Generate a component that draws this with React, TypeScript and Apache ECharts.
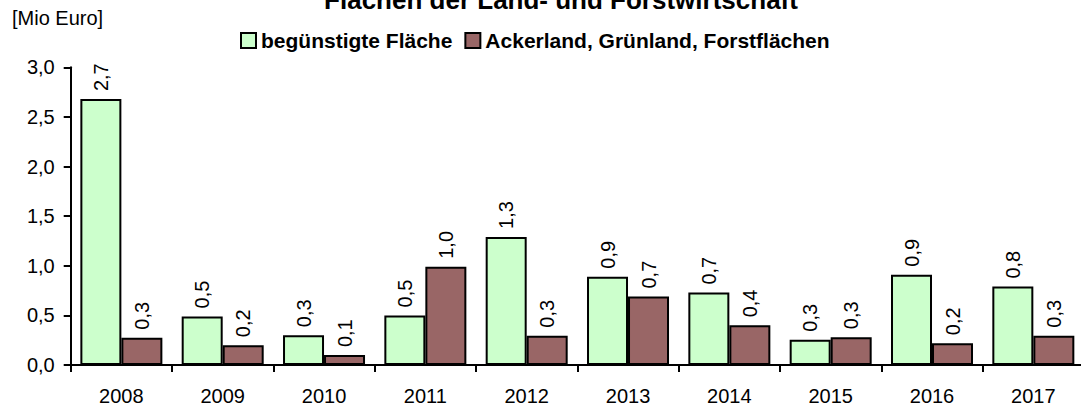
import React, { useEffect, useRef } from "react";
import * as echarts from "echarts";

const years = ["2008", "2009", "2010", "2011", "2012", "2013", "2014", "2015", "2016", "2017"];
const beguenstigt = [2.68, 0.49, 0.3, 0.5, 1.29, 0.89, 0.73, 0.255, 0.91, 0.79];
const flaechen = [0.275, 0.2, 0.1, 0.99, 0.295, 0.69, 0.4, 0.28, 0.22, 0.295];
const seriesNames = ["begünstigte Fläche", "Ackerland, Grünland, Forstflächen"];
const titleText = "Flächen der Land- und Forstwirtschaft";
const unitText = "[Mio Euro]";

const FONT = "'Liberation Sans', Arial, sans-serif";
const fmt = (v: number) => v.toFixed(1).replace(".", ",");

export default function App() {
  const ref = useRef<HTMLDivElement>(null);
  useEffect(() => {
    document.body.style.margin = "0";
    if (!ref.current) return;
    const chart = echarts.init(ref.current, null, { renderer: "svg" });
    const labelCfg = {
      show: true,
      position: "top" as const,
      rotate: 90,
      align: "left" as const,
      verticalAlign: "middle" as const,
      distance: 8,
      color: "#000",
      fontSize: 20,
      fontFamily: FONT,
      formatter: (p: any) => fmt(p.value),
    };
    chart.setOption({
      animation: false,
      graphic: [
        {
          type: "text",
          x: 561,
          y: 0,
          style: {
            text: titleText,
            font: `bold 26px ${FONT}`,
            fill: "#000",
            align: "center",
            verticalAlign: "middle",
          },
        },
        {
          type: "text",
          x: 12,
          y: 8,
          style: { text: unitText, font: `20px ${FONT}`, fill: "#000" },
        },
      ],
      legend: {
        left: 240,
        top: 30,
        padding: 0,
        itemWidth: 15,
        itemHeight: 15,
        itemGap: 12,
        icon: "rect",
        textStyle: { fontSize: 21, fontWeight: "bold", fontFamily: FONT, color: "#000" },
        data: seriesNames,
      },
      grid: { left: 70.7, right: 6, top: 67.3, bottom: 43, containLabel: false },
      xAxis: {
        type: "category",
        data: years,
        axisLine: { lineStyle: { color: "#000", width: 2 } },
        axisTick: { show: true, length: 7, lineStyle: { color: "#000", width: 2 } },
        axisLabel: { fontSize: 20, fontFamily: FONT, color: "#000", margin: 21 },
      },
      yAxis: {
        type: "value",
        min: 0,
        max: 3,
        interval: 0.5,
        axisLine: { show: true, lineStyle: { color: "#000", width: 2 } },
        axisTick: { show: true, length: 7, lineStyle: { color: "#000", width: 2 } },
        splitLine: { show: false },
        axisLabel: {
          fontSize: 20,
          fontFamily: FONT,
          color: "#000",
          margin: 16,
          formatter: (v: number) => fmt(v),
        },
      },
      series: [
        {
          name: seriesNames[0],
          type: "bar",
          data: beguenstigt,
          barWidth: 41,
          barGap: "0%",
          itemStyle: { color: "#ccffcc", borderColor: "#000", borderWidth: 2 },
          label: labelCfg,
        },
        {
          name: seriesNames[1],
          type: "bar",
          data: flaechen,
          barWidth: 41,
          barGap: "0%",
          itemStyle: { color: "#996666", borderColor: "#000", borderWidth: 2 },
          label: labelCfg,
        },
      ],
    });
    return () => chart.dispose();
  }, []);
  return (
    <div style={{ width: 1081, height: 408, overflow: "hidden", position: "relative" }}>
      <div ref={ref} style={{ width: 1090, height: 408 }} />
    </div>
  );
}
